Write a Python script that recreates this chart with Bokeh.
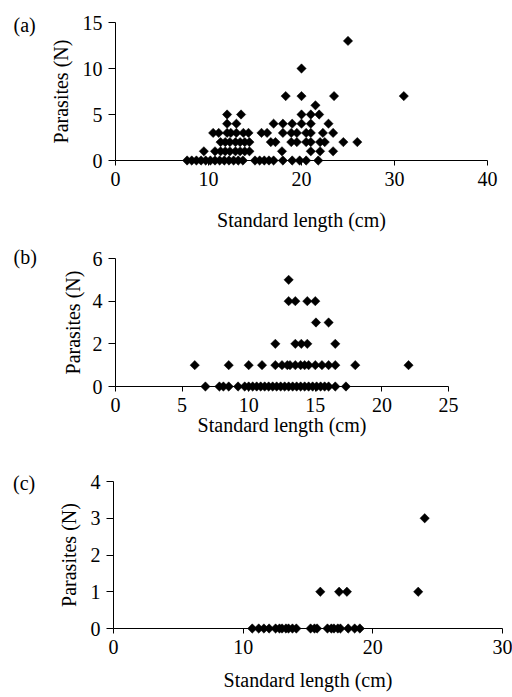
import math
from bokeh.plotting import figure
from bokeh.models import FixedTicker, Range1d, ColumnDataSource
from bokeh.core.properties import value
from bokeh.embed import file_html
from bokeh.resources import INLINE

# ---------------- data ----------------
# Panel (a): standard length (cm) of fish, grouped by number of parasites
a_len_p0 = [7.7, 8.2, 8.7, 9.2, 9.7, 10.2, 10.7, 11.2, 11.7, 12.2, 12.7, 13.2, 13.7,
            15.0, 15.5, 16.0, 16.5, 17.0, 18.0, 19.0, 19.8, 20.5, 21.8]
a_len_p1 = [9.5, 10.7, 11.3, 11.8, 12.3, 12.9, 13.4, 13.9, 14.4, 17.9, 21.0, 22.0, 23.4]
a_len_p2 = [11.3, 11.8, 12.3, 12.9, 13.4, 13.9, 14.4, 16.7, 17.2, 18.9, 19.5, 20.5,
            21.0, 22.0, 22.5, 24.5, 26.0]
a_len_p3 = [10.5, 11.1, 12.0, 12.4, 13.0, 13.75, 14.3, 15.7, 16.3, 18.0, 18.9, 19.5,
            20.5, 21.0, 22.3, 23.4]
a_len_p4 = [12.0, 13.0, 17.0, 18.0, 19.0, 20.0, 21.0, 22.9]
a_len_p5 = [12.0, 13.5, 20.0, 21.0, 21.9]
a_len_p6 = [21.5]
a_len_p7 = [18.3, 20.0, 23.5, 31.0]
a_len_p10 = [20.0]
a_len_p13 = [25.0]

# Panel (b)
b_len_p0 = [6.75, 7.8, 8.1, 8.5, 9.2, 9.7, 10.0, 10.3, 10.6, 10.9, 11.2, 11.5, 11.8,
            12.1, 12.4, 12.7, 13.0, 13.3, 13.6, 13.9, 14.2, 14.5, 14.8, 15.1, 15.4,
            15.7, 16.0, 16.5, 17.3]
b_len_p1 = [5.95, 8.5, 10.0, 11.0, 12.0, 12.5, 12.9, 13.1, 13.5, 13.9, 14.2, 14.5,
            15.0, 15.5, 16.0, 16.5, 18.0, 22.0]
b_len_p2 = [12.0, 13.5, 13.95, 14.4, 16.5]
b_len_p3 = [15.05, 16.0]
b_len_p4 = [13.0, 13.5, 14.4, 15.0]
b_len_p5 = [13.0]

# Panel (c)
c_len_p0 = [10.7, 11.2, 11.6, 12.0, 12.5, 12.8, 13.0, 13.3, 13.5, 13.8, 14.1,
            15.2, 15.5, 15.7, 16.5, 16.8, 17.0, 17.3, 17.5, 18.1, 18.6, 19.0]
c_len_p1 = [15.95, 17.4, 18.0, 23.5]
c_len_p3 = [24.0]

a_x_ticks = [0, 10, 20, 30, 40]
a_y_ticks = [0, 5, 10, 15]
b_x_ticks = [0, 5, 10, 15, 20, 25]
b_y_ticks = [0, 2, 4, 6]
c_x_ticks = [0, 10, 20, 30]
c_y_ticks = [0, 1, 2, 3, 4]

panel_letters = ["(a)", "(b)", "(c)"]
x_title = "Standard length (cm)"
y_title = "Parasites (N)"


def build(groups):
    xs, ys = [], []
    for count, lens in groups:
        xs += lens
        ys += [count] * len(lens)
    return ColumnDataSource(dict(x=xs, y=ys))


src_a = build([(0, a_len_p0), (1, a_len_p1), (2, a_len_p2), (3, a_len_p3), (4, a_len_p4),
               (5, a_len_p5), (6, a_len_p6), (7, a_len_p7), (10, a_len_p10), (13, a_len_p13)])
src_b = build([(0, b_len_p0), (1, b_len_p1), (2, b_len_p2), (3, b_len_p3), (4, b_len_p4),
               (5, b_len_p5)])
src_c = build([(0, c_len_p0), (1, c_len_p1), (3, c_len_p3)])

FONT = "Liberation Serif"


def make_panel(src, xt, yt, fw, fh, bl, br, bt, bb, letter, lx, ly,
               y_label_standoff, x_label_standoff):
    p = figure(frame_width=fw, frame_height=fh, output_backend="svg", toolbar_location=None,
               x_range=Range1d(xt[0], xt[-1]), y_range=Range1d(yt[0], yt[-1]),
               min_border_left=bl, min_border_right=br, min_border_top=bt,
               min_border_bottom=bb)
    p.outline_line_color = None
    p.background_fill_color = "white"
    p.border_fill_color = "white"
    p.grid.visible = False
    p.xaxis.ticker = FixedTicker(ticks=xt)
    p.yaxis.ticker = FixedTicker(ticks=yt)
    for ax in (p.xaxis, p.yaxis):
        ax.minor_tick_line_color = None
        ax.major_tick_in = 0
        ax.axis_line_color = "black"
        ax.major_tick_line_color = "black"
        ax.major_label_text_font = FONT
        ax.major_label_text_font_size = "20px"
        ax.major_label_text_color = "black"
        ax.axis_label_text_font = FONT
        ax.axis_label_text_font_size = "20px"
        ax.axis_label_text_font_style = "normal"
        ax.axis_label_text_color = "black"
    p.xaxis.major_tick_out = 5
    p.yaxis.major_tick_out = 7
    p.xaxis.major_label_standoff = 6
    p.yaxis.major_label_standoff = 6
    p.xaxis.axis_label = x_title
    p.yaxis.axis_label = y_title
    p.xaxis.axis_label_standoff = x_label_standoff
    p.yaxis.axis_label_standoff = y_label_standoff
    p.scatter("x", "y", source=src, marker="square", angle=math.pi / 4, size=6.6,
              fill_color="black", line_color="black", line_width=0.5, level="overlay")
    # panel letter, placed left of the y axis (outside the frame, so drawn on overlay level)
    p.text(x=[lx], y=[ly], text=[letter], text_font=value(FONT), text_font_size="20px",
           text_color="black", text_align="left", text_baseline="alphabetic",
           level="overlay")
    return p


pa = make_panel(src_a, a_x_ticks, a_y_ticks, 372, 138, 115, 25, 22, 80,
                panel_letters[0], -10.97, 14.75, 8, 20)
pb = make_panel(src_b, b_x_ticks, b_y_ticks, 333, 128, 115, 64, 18, 64,
                panel_letters[1], -7.66, 6.09, 6, -1)
pc = make_panel(src_c, c_x_ticks, c_y_ticks, 389, 147, 113, 10, 31, 68,
                panel_letters[2], -7.75, 3.955, 8, 12)

open("out.html", "w").write(file_html([pa, pb, pc], INLINE))
